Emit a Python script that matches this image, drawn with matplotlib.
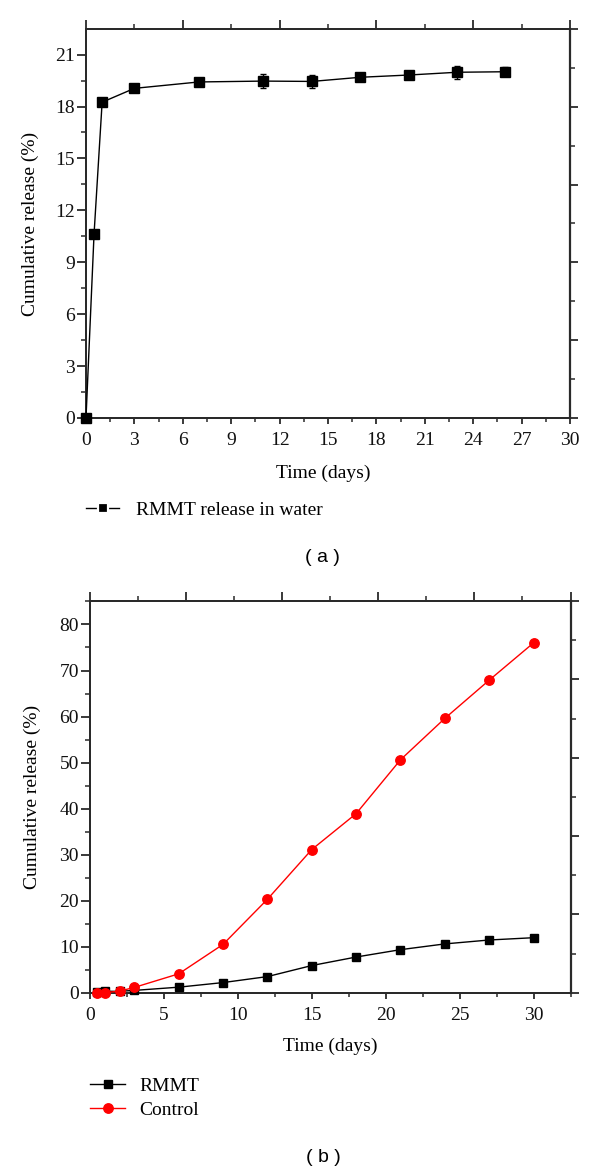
import numpy as np
import matplotlib
matplotlib.use("Agg")
import matplotlib.pyplot as plt
from matplotlib.ticker import MultipleLocator
from matplotlib.lines import Line2D

# ---------------- data ----------------
a_time = [0, 0.5, 1, 3, 7, 11, 14, 17, 20, 23, 26]
a_release = [0, 10.65, 18.25, 19.05, 19.42, 19.47, 19.45, 19.69, 19.82, 19.98, 20.01]
a_err = [0, 0, 0.1, 0.22, 0.22, 0.4, 0.38, 0.2, 0.25, 0.38, 0.25]

b_time = [0.5, 1, 2, 3, 6, 9, 12, 15, 18, 21, 24, 27, 30]
b_rmmt = [0.1, 0.3, 0.3, 0.5, 1.2, 2.2, 3.5, 5.9, 7.75, 9.35, 10.6, 11.45, 11.95]
b_control = [0, 0, 0.35, 1.15, 4.1, 10.5, 20.3, 31.1, 38.9, 50.6, 59.6, 67.9, 76.0]

a_xticks = [0, 3, 6, 9, 12, 15, 18, 21, 24, 27, 30]
a_yticks = [0, 3, 6, 9, 12, 15, 18, 21]
b_xticks = [0, 5, 10, 15, 20, 25, 30]
b_yticks = [0, 10, 20, 30, 40, 50, 60, 70, 80]

plt.rcParams['font.family'] = ['Liberation Serif', 'DejaVu Serif']
FS = 14
SPINE = '#2a2a2a'
W, H = 600, 1174

fig = plt.figure(figsize=(W / 100, H / 100), dpi=100)


def axes_px(left, top, right, bottom):
    return fig.add_axes([left / W, 1 - bottom / H, (right - left) / W, (bottom - top) / H])


def style_axes(ax, xlim, ylim, xticks, yticks, xminor, yminor):
    ax.set_xlim(*xlim)
    ax.set_ylim(*ylim)
    ax.set_xticks(xticks)
    ax.set_yticks(yticks)
    ax.xaxis.set_minor_locator(MultipleLocator(xminor))
    ax.yaxis.set_minor_locator(MultipleLocator(yminor))
    for s in ax.spines.values():
        s.set_linewidth(1.4)
        s.set_color(SPINE)
    ax.tick_params(axis='both', which='both', direction='out', top=False, right=False,
                   color=SPINE, labelsize=FS, labelcolor='#111111')
    ax.tick_params(axis='y', which='major', length=6.5, width=1.3, pad=1.5)
    ax.tick_params(axis='y', which='minor', length=3.5, width=1.1)
    ax.tick_params(axis='x', which='major', length=4.5, width=1.3, pad=5.5)
    ax.tick_params(axis='x', which='minor', length=2.8, width=1.1)
    # secondary unlabeled tick sets on the right and top
    axr = ax.twinx()
    axr.set_ylim(0, 1)
    axr.set_yticks(np.arange(0, 1.01, 0.2))
    axr.yaxis.set_minor_locator(MultipleLocator(0.1))
    axr.tick_params(axis='y', which='major', length=6, width=1.3, color=SPINE, labelright=False)
    axr.tick_params(axis='y', which='minor', length=3.5, width=1.1, color=SPINE)
    axt = ax.twiny()
    axt.set_xlim(0, 1)
    axt.set_xticks(np.arange(0, 1.01, 0.2))
    axt.xaxis.set_minor_locator(MultipleLocator(0.1))
    axt.tick_params(axis='x', which='major', length=6.5, width=1.3, color=SPINE, labeltop=False)
    axt.tick_params(axis='x', which='minor', length=3.5, width=1.1, color=SPINE)
    for a2 in (axr, axt):
        for s in a2.spines.values():
            s.set_linewidth(1.4)
            s.set_color(SPINE)
    axr.spines['right'].set_linewidth(1.6)
    ax.set_zorder(3)
    ax.patch.set_visible(False)


# ---------------- panel (a) ----------------
axa = axes_px(86, 29, 570, 418)
style_axes(axa, (0, 30), (0, 22.48), a_xticks, a_yticks, 1.5, 1.5)
axa.errorbar(a_time, a_release, yerr=a_err, color='black', lw=1.0, marker='s',
             markersize=7.0, capsize=2.5, elinewidth=1.0, capthick=1.0, clip_on=False, zorder=5)
axa.set_xlabel('Time (days)', fontsize=FS)
axa.xaxis.label.set_va('center')
axa.xaxis.set_label_coords(0.49, (418 - 473) / 389)
axa.set_ylabel('Cumulative release (%)', fontsize=FS)
axa.yaxis.label.set_va('center')
axa.yaxis.label.set_ha('center')
axa.yaxis.set_label_coords((30 - 86) / 484, 0.5)

ha = Line2D([], [], color='black', lw=1.0, marker='s', markersize=6.5,
            markeredgecolor='white', markeredgewidth=1.6)
axa.legend([ha], ['RMMT release in water'], loc='center left',
           bbox_to_anchor=(86 / W, 1 - 510 / H), bbox_transform=fig.transFigure,
           frameon=False, fontsize=FS, handlelength=1.7, handletextpad=0.85,
           borderpad=0, borderaxespad=0)

fig.text(322 / W, 1 - 557 / H, '( a )', fontsize=14, family='Liberation Sans',
         ha='center', va='center')

# ---------------- panel (b) ----------------
axb = axes_px(90, 601, 570.5, 992.7)
style_axes(axb, (0, 32.5), (0, 85.1), b_xticks, b_yticks, 2.5, 5)
axb.plot(b_time, b_rmmt, color='black', lw=1.0, marker='s', markersize=6.3,
         clip_on=False, zorder=4, label='RMMT')
axb.plot(b_time, b_control, color='#ff0000', lw=1.0, marker='o', markersize=6.8,
         clip_on=False, zorder=5, label='Control')
axb.set_xlabel('Time (days)', fontsize=FS)
axb.xaxis.label.set_va('center')
axb.xaxis.set_label_coords(0.5, (992.7 - 1046) / 391.7)
axb.set_ylabel('Cumulative release (%)', fontsize=FS)
axb.yaxis.label.set_va('center')
axb.yaxis.label.set_ha('center')
axb.yaxis.set_label_coords((32 - 90) / 480.5, 0.5)
axb.legend(loc='center left', bbox_to_anchor=(90 / W, 1 - 1098 / H),
           bbox_transform=fig.transFigure, frameon=False, fontsize=FS,
           handlelength=1.8, handletextpad=0.75, labelspacing=0.3,
           borderpad=0, borderaxespad=0)

fig.text(323 / W, 1 - 1158 / H, '( b )', fontsize=14, family='Liberation Sans',
         ha='center', va='center')

fig.savefig('out.png', dpi=100)
